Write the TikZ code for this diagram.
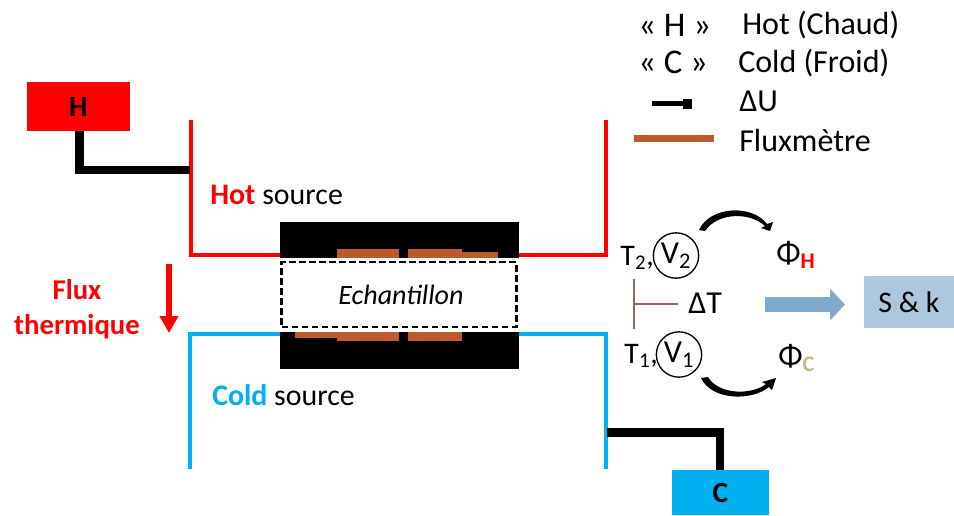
\documentclass[tikz,border=0pt]{standalone}
\usepackage{fontspec}
\setmainfont{Carlito}
\usetikzlibrary{arrows.meta,calc}
\definecolor{hotred}{RGB}{255,0,0}
\definecolor{coldblue}{RGB}{0,176,240}
\definecolor{fluxbrown}{RGB}{190,90,46}
\definecolor{steel}{RGB}{127,170,204}
\definecolor{paleblue}{RGB}{172,199,222}
\definecolor{tbrown}{RGB}{150,105,90}
\definecolor{khaki}{RGB}{196,189,130}
\tikzset{
  x=0.75pt,y=-0.75pt,
  txt/.style={inner sep=0pt,font=\fontsize{24}{28}\selectfont,text=black},
  mid/.style={inner sep=0pt,font=\fontsize{22.4}{26}\selectfont,text=black},
  hotline/.style={draw=hotred,line width=3pt,line cap=butt,line join=miter},
  coldline/.style={draw=coldblue,line width=3.2pt,line join=miter},
  lead/.style={draw=black,line width=6.5pt,line join=miter},
  flux/.style={fill=fluxbrown,draw=none},
  volt/.style={circle,draw=black,line width=1pt,minimum size=34pt,inner sep=0pt,font=\fontsize{24}{28}\selectfont},
}
\begin{document}
\begin{tikzpicture}
\useasboundingbox (0,0) rectangle (954,515);
\fill[white] (0,0) rectangle (954,515);
% sources
\draw[hotline] (190.5,120) -- (190.5,255) -- (282,255);
\draw[hotline] (518,255) -- (606,255) -- (606,120);
\draw[coldline] (190,469) -- (190,334) -- (282,334);
\draw[coldline] (518,334) -- (606,334) -- (606,469);
% boxes
\node[fill=hotred,minimum width=77.25pt,minimum height=36.75pt,inner sep=0pt,font=\fontsize{22}{26}\selectfont\bfseries] (H) at (78.5,106.5) {H};
\node[fill=coldblue,minimum width=72.75pt,minimum height=34pt,inner sep=0pt,font=\fontsize{22}{26}\selectfont\bfseries] (C) at (720.5,492.5) {\raisebox{-2pt}{C}};
\coordinate (hl) at (190,170);
\coordinate (cl) at (607,432.5);
\draw[lead] (79.5,131) -- (79.5,170) -- (hl);
\draw[lead] (cl) -- (720,432.5) -- (720,470);
% black blocks
\fill[black] (280,221.5) rectangle (519,258);
\fill[black] (280,332) rectangle (519,369);
% flux
\fill[flux] (337,249) rectangle (399,258);
\fill[flux] (408,249) rectangle (462,258);
\fill[flux] (462,251.5) rectangle (498,258);
\fill[flux] (295,332) rectangle (337,338);
\fill[flux] (337,332) rectangle (399,341);
\fill[flux] (408,332) rectangle (462,341);
% sample
\node[draw=black,dash pattern=on 5pt off 2.5pt,line width=1.8pt,fill=white,minimum width=176pt,minimum height=48.5pt,inner sep=0pt,font=\fontsize{21}{25}\selectfont\itshape] (E) at (399,294.5) {\hspace*{3pt}Echantillon};
% labels
\node[mid,anchor=west] (hs) at (210,195) {\textcolor{hotred}{\bfseries Hot} source};
\node[mid,anchor=west] (cs) at (212,395) {\textcolor{coldblue}{\bfseries Cold} source};
\node[inner sep=0pt,align=center,text=hotred,font=\fontsize{21.5}{26.5}\selectfont\bfseries] (ft) at (77,309) {Flux\\thermique};
\coordinate (a1) at (169,264);
\coordinate (a2) at (169,333);
\draw[draw=hotred,line width=4.5pt,-{Triangle[length=12.75pt,width=13.5pt]}] (a1) -- (a2);
% legend
\node[txt,anchor=west] (l1a) at (638,25) {\fontsize{26}{28}\selectfont « H »};
\node[txt,anchor=west] (l1b) at (742,25) {Hot (Chaud)};
\node[txt,anchor=west] (l2a) at (638,62) {\fontsize{26}{28}\selectfont « C »};
\node[txt,anchor=west] (l2b) at (738,63) {Cold (Froid)};
\node[txt,anchor=west] (l3b) at (739,101) {ΔU};
\node[txt,anchor=west] (l4b) at (739,141) {Fluxmètre};
\coordinate (u1) at (652,103.7);
\coordinate (u2) at (684,103.7);
\draw[draw=black,line width=3.75pt] (u1) -- (u2);
\fill[black] (683,98.5) rectangle (692,108.5);
\coordinate (m1) at (634,138.5);
\coordinate (m2) at (714,138.5);
\draw[draw=fluxbrown,line width=5.5pt] (m1) -- (m2);
% right part
\node[txt,anchor=east,font=\fontsize{22.4}{26}\selectfont] (T2) at (654,258) {T\textsubscript{2},};
\node[txt,anchor=east,font=\fontsize{22.4}{26}\selectfont] (T1) at (658,356) {T\textsubscript{1},};
\node[volt] (V2) at (676,255.5) {V\textsubscript{2}};
\node[volt] (V1) at (679,354.5) {V\textsubscript{1}};
\coordinate (b1) at (634.3,279);
\coordinate (b2) at (634.3,329);
\coordinate (b3) at (634.3,304);
\coordinate (b4) at (678,304);
\draw[draw=tbrown,line width=1.5pt] (b1) -- (b2) (b3) -- (b4);
\node[txt,anchor=west] (dT) at (688,303) {ΔT};
\node[txt,anchor=west] (PH) at (776,255) {Φ\textsubscript{\textcolor{hotred}{\bfseries H}}};
\node[txt,anchor=west] (PC) at (778,358) {Φ\textsubscript{\textcolor{khaki}{\bfseries C}}};
% swoops
\fill[black] (699,230) .. controls (710,206) and (752,204) .. (767,224) -- (773,222) -- (770,231) -- (761,228) -- (765,226) .. controls (750,212) and (718,212) .. (705,231) -- cycle;
\fill[black] (701,378) -- (708,377) .. controls (718,394) and (750,396) .. (766,384) -- (762,382) -- (776,378) -- (772,390) -- (769,387) .. controls (752,401) and (712,401) .. (701,378) -- cycle;
% output
\node[fill=paleblue,minimum width=67.5pt,minimum height=38.5pt,inner sep=0pt,font=\fontsize{22.4}{26}\selectfont] (SK) at (909,302) {S \& k};
\coordinate (ar1) at (765,304.5);
\coordinate (ar2) at (845,304.5);
\draw[draw=steel,line width=11.25pt,-{Triangle[length=11.25pt,width=23.25pt]}] (ar1) -- (ar2);
\end{tikzpicture}
\end{document}
